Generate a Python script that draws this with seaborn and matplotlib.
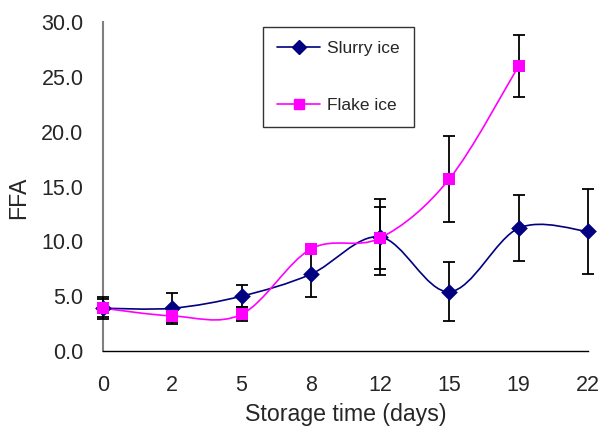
import numpy as np
import pandas as pd
import seaborn as sns
import matplotlib.pyplot as plt
from matplotlib.path import Path
from matplotlib.patches import PathPatch
from matplotlib.lines import Line2D

sns.set_style("white")
plt.rcParams['font.family'] = ['Liberation Sans', 'DejaVu Sans']

days = ['0', '2', '5', '8', '12', '15', '19', '22']
slurry = [3.9, 3.9, 5.0, 7.0, 10.4, 5.4, 11.2, 10.9]
slurry_err = [1.0, 1.4, 1.0, 2.1, 3.45, 2.7, 3.0, 3.9]
flake = [3.9, 3.2, 3.35, 9.3, 10.3, 15.7, 26.0]
flake_err = [0.8, 0.6, 0.65, 0.0, 2.85, 3.9, 2.8]


def smooth_path(x, y):
    # bezier curve through the points, like excel's smoothed line
    pts = np.column_stack([x, y]).astype(float)
    ext = np.vstack([pts[0], pts, pts[-1]])
    verts = [pts[0]]
    codes = [Path.MOVETO]
    for i in range(1, len(ext) - 2):
        p0, p1, p2, p3 = ext[i - 1], ext[i], ext[i + 1], ext[i + 2]
        verts += [p1 + (p2 - p0) / 6, p2 - (p3 - p1) / 6, p2]
        codes += [Path.CURVE4] * 3
    return Path(verts, codes)


fig = plt.figure(figsize=(6.05, 4.29), dpi=100)
ax = fig.add_axes([103 / 605, 1 - 351 / 429, 485 / 605, 329 / 429])

series = [
    ('Slurry ice', slurry, slurry_err, '#000080', 'D', 8.5),
    ('Flake ice', flake, flake_err, '#FF00FF', 's', 8.5),
]
handles = []
for name, vals, err, col, mk, ms in series:
    xs = np.arange(len(vals))
    ax.add_patch(PathPatch(smooth_path(xs, vals), facecolor='none',
                           edgecolor=col, lw=1.2, zorder=2, clip_on=False))
    ax.errorbar(xs, vals, yerr=err, fmt='none', ecolor='black', elinewidth=1.3,
                capsize=4.5, capthick=1.3, zorder=3, clip_on=False)
    df = pd.DataFrame({'x': xs, 'y': vals})
    sns.scatterplot(data=df, x='x', y='y', marker=mk, color=col, s=ms ** 2,
                    edgecolor=col, linewidth=0, zorder=4, clip_on=False, ax=ax)
    handles.append(Line2D([], [], color=col, lw=1.2, marker=mk,
                          markersize=ms * 0.85, label=name))

ax.set_xlim(0, 7)
ax.set_ylim(0, 30)
ax.set_xticks(range(len(days)))
ax.set_xticklabels(days)
ax.set_yticks(np.arange(0, 31, 5))
ax.set_yticklabels(['%.1f' % v for v in np.arange(0, 31, 5)])
ax.tick_params(axis='both', direction='out', length=5, width=1, color='black',
               labelsize=15.5)
ax.tick_params(axis='y', pad=9)
ax.tick_params(axis='x', pad=12)

for s in ['top', 'right']:
    ax.spines[s].set_visible(False)
ax.spines['left'].set_color('#808080')
ax.spines['left'].set_linewidth(1.5)
ax.spines['bottom'].set_color('black')
ax.spines['bottom'].set_linewidth(1.0)

ax.set_xlabel('Storage time (days)', fontsize=16.7, labelpad=5)
ax.set_ylabel('FFA', fontsize=16.7, labelpad=8)
ax.yaxis.set_label_coords(-0.15, 0.465)

leg = ax.legend(handles=handles, loc='upper left',
                bbox_to_anchor=((263 - 103) / 485, (351 - 27) / 329),
                fontsize=12.5, frameon=True, fancybox=False, handlelength=2.5,
                labelspacing=2.4, borderpad=0.8, handletextpad=0.4,
                borderaxespad=0)
leg.get_frame().set_edgecolor('black')
leg.get_frame().set_linewidth(1.0)

fig.savefig('out.png', dpi=100)
